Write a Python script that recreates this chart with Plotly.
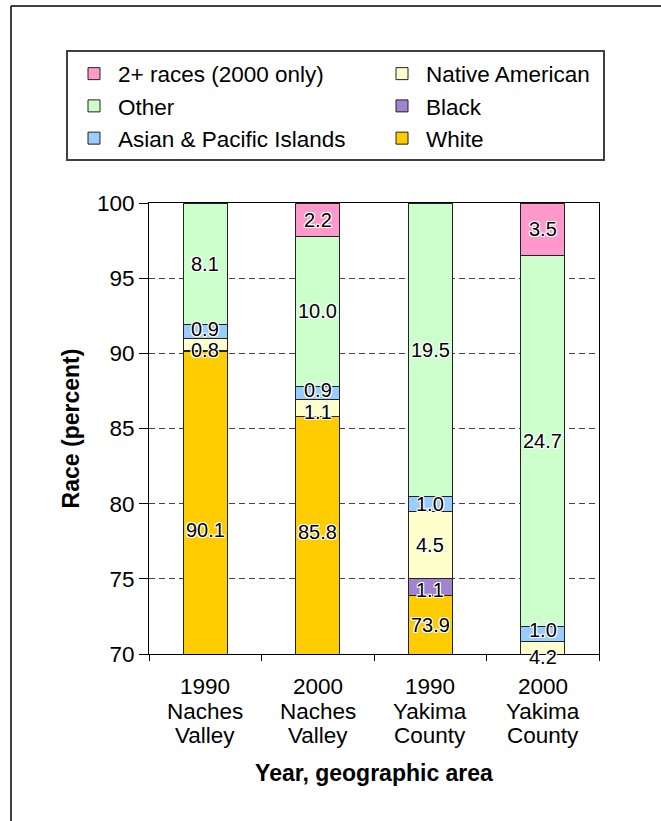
import plotly.graph_objects as go

# Category axis: year and geographic area (three text lines per category)
years = ["1990", "2000", "1990", "2000"]
area_top = ["Naches", "Naches", "Yakima", "Yakima"]
area_bottom = ["Valley", "Valley", "County", "County"]
categories = [f"{y} {a} {b}" for y, a, b in zip(years, area_top, area_bottom)]

# Race composition, percent of population (stacked bottom to top)
white = [90.1, 85.8, 73.9, 65.6]
black = [0.1, 0.0, 1.1, 1.0]
native = [0.8, 1.1, 4.5, 4.2]
asian = [0.9, 0.9, 1.0, 1.0]
other = [8.1, 10.0, 19.5, 24.7]
multi = [None, 2.2, None, 3.5]

y_ticks = [70, 75, 80, 85, 90, 95, 100]
y_min, y_max = 70, 100

series = [
    ("White", white, "#FFCC00", "legend2"),
    ("Black", black, "#A083D1", "legend2"),
    ("Native American", native, "#FFFFCC", "legend2"),
    ("Asian & Pacific Islands", asian, "#99CCFF", "legend"),
    ("Other", other, "#CCFFCC", "legend"),
    ("2+ races (2000 only)", multi, "#FF99CC", "legend"),
]

# Small vertical nudges (px) for label placement
label_nudge = {
    ("White", 0): -27.0, ("White", 1): 3.0,
    ("Asian & Pacific Islands", 0): 2.5, ("Native American", 0): -5.5,
    ("Asian & Pacific Islands", 1): 3.0, ("Native American", 1): -3.5,
    ("Black", 2): -3.0,
    ("Asian & Pacific Islands", 3): 4.5, ("Native American", 3): -9.0,
}

FONT = "Liberation Sans, Arial, sans-serif"
HALO = ("1px 1px 0 #fff, -1px -1px 0 #fff, 1px -1px 0 #fff, -1px 1px 0 #fff, "
        "0 1px 0 #fff, 0 -1px 0 #fff, 1px 0 0 #fff, -1px 0 0 #fff")

fig = go.Figure()
for name, vals, color, leg in series:
    fig.add_trace(go.Bar(
        x=categories, y=vals, name=name, legend=leg,
        marker=dict(color=color, line=dict(color="#222222", width=1)),
        hoverinfo="x+y+name",
    ))

# Value labels centred on the visible part of each segment
annotations = []
base = [0.0] * len(categories)
for name, vals, color, leg in series:
    for i, v in enumerate(vals):
        if v is None:
            continue
        lo, hi = base[i], base[i] + v
        vis_lo, vis_hi = max(lo, y_min), min(hi, y_max)
        if v >= 0.5 and vis_hi > vis_lo:
            annotations.append(dict(
                x=categories[i], y=(vis_lo + vis_hi) / 2, xref="x", yref="y",
                yshift=label_nudge.get((name, i), 0),
                text=f"{v:.1f}", showarrow=False,
                font=dict(family=FONT, size=20, color="#000", shadow=HALO),
            ))
        base[i] = hi

# Category labels beneath the axis, one line each
for i, cat in enumerate(categories):
    for line, shift in ((years[i], -32.5), (area_top[i], -57), (area_bottom[i], -81)):
        annotations.append(dict(
            x=cat, y=0, xref="x", yref="paper", yanchor="middle", yshift=shift,
            text=line, showarrow=False,
            font=dict(family=FONT, size=22.5, color="#000"),
        ))

W, H = 661, 821
ml, mr, mt, mb = 149, 62, 203, 167
pw, ph = W - ml - mr, H - mt - mb


def px_x(p):
    return (p - ml) / pw


def px_y(p):
    return (H - mb - p) / ph


shapes = [
    # legend frame
    dict(type="rect", xref="paper", yref="paper",
         x0=px_x(67), x1=px_x(604), y0=px_y(160), y1=px_y(51),
         line=dict(color="#404040", width=2), fillcolor="rgba(0,0,0,0)", layer="below"),
    # chart frame (left and top edges)
    dict(type="line", xref="paper", yref="paper",
         x0=px_x(11), x1=px_x(11), y0=px_y(6), y1=px_y(H + 5),
         line=dict(color="#000", width=1.5)),
    dict(type="line", xref="paper", yref="paper",
         x0=px_x(11), x1=px_x(W + 5), y0=px_y(6), y1=px_y(6),
         line=dict(color="#000", width=1.5)),
]

legend_common = dict(
    orientation="v", traceorder="reversed", yanchor="top", xanchor="left",
    y=px_y(52.5), bgcolor="rgba(0,0,0,0)", borderwidth=0, itemwidth=38,
    font=dict(family=FONT, size=22.5, color="#000"),
)

fig.update_layout(
    width=W, height=H,
    margin=dict(l=ml, r=mr, t=mt, b=mb, autoexpand=False),
    paper_bgcolor="#fff", plot_bgcolor="#fff",
    barmode="stack", bargap=0.609,
    font=dict(family=FONT, size=22.5, color="#000"),
    showlegend=True,
    legend=dict(x=px_x(70), **legend_common),
    legend2=dict(x=px_x(378), **legend_common),
    xaxis=dict(
        type="category", categoryorder="array", categoryarray=categories,
        showticklabels=False, ticks="outside", tickson="boundaries",
        ticklen=6, tickcolor="#000", showline=True, linecolor="#000",
        linewidth=1, mirror=True, showgrid=False,
        title=dict(text="Year, geographic area", standoff=110,
                   font=dict(family=FONT, size=23, color="#000", weight="bold")),
    ),
    yaxis=dict(
        range=[y_min, y_max], tickvals=y_ticks, ticks="outside", ticklen=9,
        tickcolor="#000", showline=True, linecolor="#000", linewidth=1,
        mirror=True, showgrid=True, gridcolor="#444", gridwidth=1,
        griddash="6px,4px", zeroline=False,
        tickfont=dict(family=FONT, size=22.5, color="#000"),
        title=dict(text="Race (percent)", standoff=10,
                   font=dict(family=FONT, size=23, color="#000", weight="bold")),
    ),
    annotations=annotations,
    shapes=shapes,
)

fig.write_html("out.html")
